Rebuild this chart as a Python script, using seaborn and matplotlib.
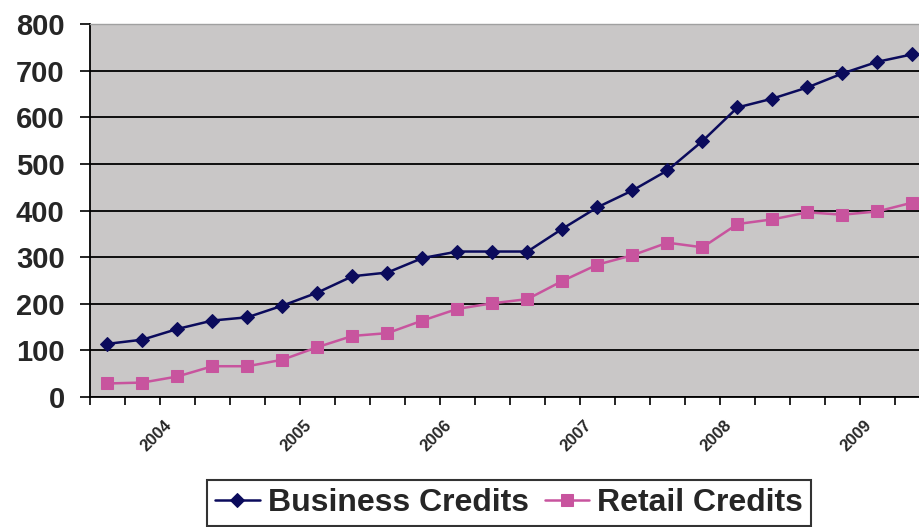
import matplotlib
matplotlib.use("Agg")
import matplotlib.pyplot as plt
import matplotlib.transforms as mtransforms
import seaborn as sns
import pandas as pd
import numpy as np

# Quarterly periods (24 quarters), labels shown once a year
periods = [f"{y}Q{q}" for y in range(2003, 2010) for q in range(1, 5)][2:26]
year_labels = ["2004", "2005", "2006", "2007", "2008", "2009"]
year_label_pos = [2, 6, 10, 14, 18, 22]

business = [114, 123, 146, 164, 171, 196, 224, 259, 267, 298, 312, 312,
            312, 361, 407, 443, 486, 549, 621, 640, 664, 694, 719, 735]
retail = [29, 31, 44, 66, 66, 80, 107, 131, 137, 164, 189, 201,
          210, 249, 284, 304, 331, 321, 371, 381, 396, 391, 398, 417]

sns.set_theme(style="white")
plt.rcParams['font.family'] = ['Liberation Sans', 'DejaVu Sans']

df = pd.DataFrame({"idx": np.arange(len(periods)), "period": periods,
                   "Business Credits": business, "Retail Credits": retail})

fig = plt.figure(figsize=(9.2, 5.27), dpi=100)
ax = fig.add_axes([90/920, (527-397)/527, 840/920, 373/527])
ax.set_facecolor("#c9c7c7")

c_bus = "#0b0b5c"
c_ret = "#c8549e"
sns.lineplot(data=df, x="idx", y="Business Credits", ax=ax, color=c_bus,
             marker="D", markersize=7.5, markeredgecolor=c_bus, linewidth=1.8,
             label="Business Credits", legend=False)
sns.lineplot(data=df, x="idx", y="Retail Credits", ax=ax, color=c_ret,
             marker="s", markersize=8.5, markeredgecolor=c_ret, linewidth=1.8,
             label="Retail Credits", legend=False)

ax.set_xlim(-0.5, len(periods) - 0.5)
ax.set_ylim(0, 800)
ax.set_yticks(range(0, 801, 100))
ax.set_yticklabels([str(v) for v in range(0, 801, 100)], fontsize=21, fontweight="bold")
ax.yaxis.grid(True, color="black", linewidth=1.3)
ax.set_axisbelow(True)

ax.set_xticks(np.arange(-0.5, len(periods), 1), minor=True)
ax.tick_params(axis="x", which="major", length=0, pad=15)
ax.tick_params(axis="x", which="minor", length=6, width=1.2, color="black", bottom=True)
ax.tick_params(axis="y", which="major", length=7.2, width=1.2, color="black", left=True, pad=11)
ax.set_xticks(year_label_pos)
ax.set_xticklabels(year_labels, rotation=45, ha="right", rotation_mode="anchor",
                   fontsize=12, fontweight="bold")
shift = mtransforms.ScaledTranslation(-14/100, 0, fig.dpi_scale_trans)
for t in ax.get_xticklabels():
    t.set_transform(t.get_transform() + shift)
ax.set_xlabel("")
ax.set_ylabel("")

for s in ["left", "bottom"]:
    ax.spines[s].set_color("black")
    ax.spines[s].set_linewidth(1.3)
ax.spines["top"].set_color("#a0a0a0")
ax.spines["top"].set_linewidth(1.0)
ax.spines["right"].set_visible(False)

h, l = ax.get_legend_handles_labels()
leg = fig.legend(h, l, loc="upper center", bbox_to_anchor=(509/920, 1 - 480/527),
                 ncol=2, frameon=True, fancybox=False, edgecolor="black",
                 prop={"size": 23, "weight": "bold"}, handlelength=1.4,
                 handletextpad=0.25, columnspacing=0.5, borderpad=0.25,
                 borderaxespad=0)
leg.get_frame().set_linewidth(1.5)

fig.savefig("out.png", dpi=100)
